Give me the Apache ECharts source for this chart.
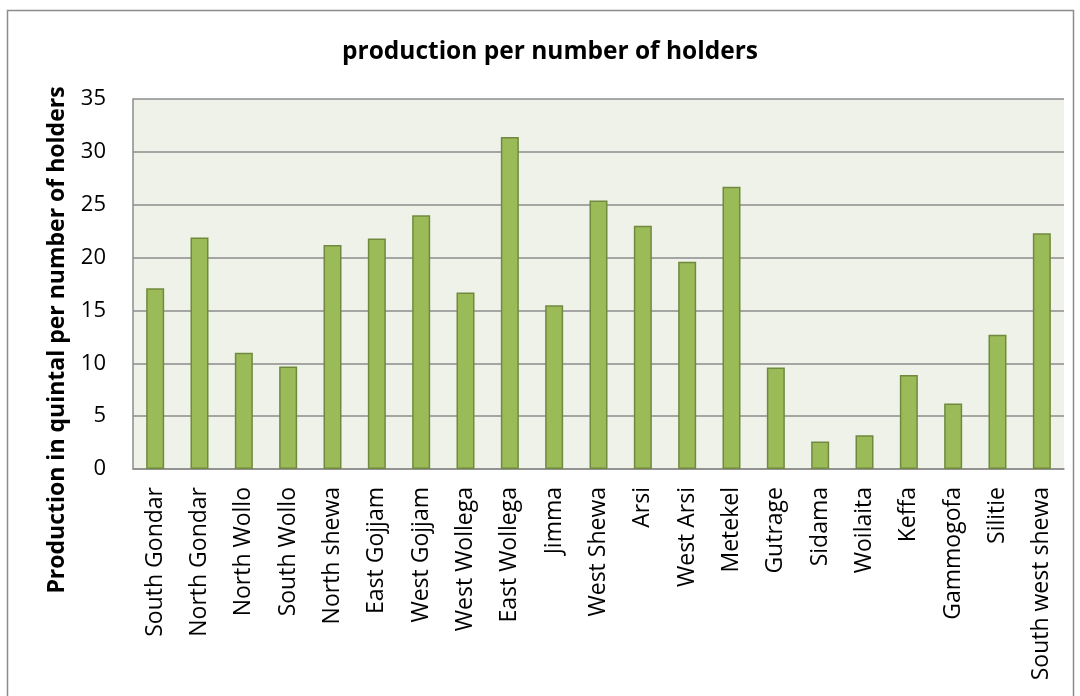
<!DOCTYPE html>
<html>
<head>
<meta charset="utf-8">
<script src="https://cdn.jsdelivr.net/npm/echarts@6/dist/echarts.min.js"></script>
<style>
html,body{margin:0;padding:0;background:#fff;}
#chart{width:1080px;height:696px;}
</style>
</head>
<body>
<div id="chart"></div>
<script>
const categories = ["South Gondar","North Gondar","North Wollo","South Wollo","North shewa","East Gojjam","West Gojjam","West Wollega","East Wollega","Jimma","West Shewa","Arsi","West Arsi","Metekel","Gutrage","Sidama","Woilaita","Keffa","Gammogofa","Silitie","South west shewa"];
const values = [17.1,21.9,11.0,9.7,21.2,21.8,24.0,16.7,31.4,15.5,25.4,23.0,19.6,26.7,9.6,2.6,3.2,8.9,6.2,12.7,22.3];
const titleText = "production per number of holders";
const yAxisName = "Production in quintal per number of holders";

const chart = echarts.init(document.getElementById('chart'));
const font = "'Open Sans', 'Noto Sans', sans-serif";
chart.setOption({
  animation: false,
  backgroundColor: '#ffffff',
  textStyle: {fontFamily: font},
  title: {
    text: titleText,
    left: 342,
    top: 40,
    padding: 0,
    textStyle: {fontFamily: font, fontSize: 24.5, fontWeight: 'bold', color: '#000'}
  },
  graphic: [{
    type: 'rect',
    shape: {x: 7.5, y: 10.5, width: 1066, height: 700},
    style: {fill: 'none', stroke: '#8c8c8c', lineWidth: 1.5},
    silent: true
  }],
  grid: {left: 133, right: 16, top: 99, bottom: 227, containLabel: false, show: true, backgroundColor: '#EFF2E8', borderWidth: 0},
  xAxis: {
    type: 'category',
    data: categories,
    axisTick: {show: false},
    axisLine: {show: true, lineStyle: {color: '#8c8c8c', width: 1.5}},
    axisLabel: {rotate: 90, interval: 0, fontFamily: font, fontSize: 23, color: '#000', margin: 18}
  },
  yAxis: {
    type: 'value',
    min: 0, max: 35, interval: 5,
    name: yAxisName,
    nameLocation: 'middle',
    nameGap: 64,
    nameTextStyle: {fontFamily: font, fontSize: 23, fontWeight: 'bold', color: '#000', padding: [0, 112, 0, 0]},
    axisLine: {show: true, lineStyle: {color: '#8c8c8c', width: 1.5}},
    axisTick: {show: false},
    axisLabel: {fontFamily: font, fontSize: 22, color: '#000', margin: 27},
    splitLine: {show: true, lineStyle: {color: '#8c8c8c', width: 1.5}}
  },
  series: [{
    type: 'bar',
    data: values,
    barWidth: 18,
    itemStyle: {color: '#9BBB59', borderColor: '#71893F', borderWidth: 1.5}
  }]
});
</script>
</body>
</html>
